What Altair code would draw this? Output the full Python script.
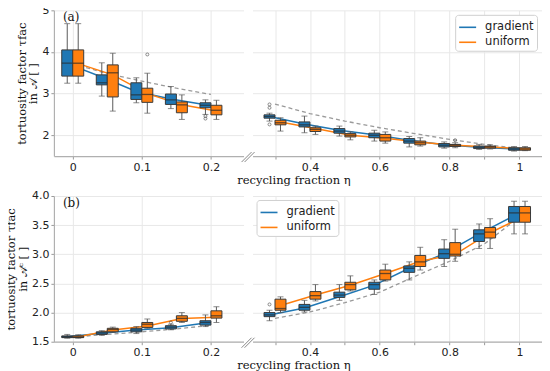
import altair as alt
import pandas as pd

eta_left = [0.0, 0.05, 0.1, 0.15, 0.2]
eta_right = [0.3, 0.4, 0.5, 0.6, 0.7, 0.8, 0.9, 1.0]
eta_all = eta_left + eta_right
series_names = ["gradient", "uniform"]

# ---- panel (a): tortuosity in A ----
a_grad_lo = [3.25, 2.94, 2.78, 2.64, 2.50, 2.34, 2.06, 1.98, 1.86, 1.72, 1.69, 1.66, 1.62]
a_grad_q1 = [3.42, 3.21, 2.86, 2.74, 2.66, 2.41, 2.20, 2.05, 1.94, 1.81, 1.72, 1.68, 1.64]
a_grad_md = [3.73, 3.26, 2.97, 2.85, 2.72, 2.45, 2.25, 2.10, 2.00, 1.86, 1.76, 1.71, 1.67]
a_grad_q3 = [4.05, 3.45, 3.26, 2.99, 2.78, 2.49, 2.32, 2.16, 2.05, 1.92, 1.80, 1.74, 1.70]
a_grad_hi = [4.68, 3.74, 3.38, 3.17, 2.85, 2.53, 2.46, 2.22, 2.12, 1.97, 1.84, 1.78, 1.73]
a_grad_line = [3.72, 3.40, 3.05, 2.87, 2.73, 2.45, 2.27, 2.12, 2.01, 1.88, 1.77, 1.71, 1.67]
a_grad_out_eta = [0.2, 0.2, 0.3, 0.3, 0.3]
a_grad_out_val = [2.40, 2.46, 2.66, 2.74, 2.26]

a_unif_lo = [3.25, 2.58, 2.53, 2.38, 2.38, 2.10, 2.02, 1.89, 1.81, 1.74, 1.70, 1.67, 1.63]
a_unif_q1 = [3.42, 2.92, 2.79, 2.54, 2.49, 2.25, 2.09, 1.96, 1.86, 1.77, 1.73, 1.69, 1.64]
a_unif_md = [3.73, 3.50, 2.98, 2.73, 2.60, 2.30, 2.14, 2.00, 1.94, 1.82, 1.76, 1.72, 1.67]
a_unif_q3 = [4.05, 3.69, 3.13, 2.80, 2.72, 2.36, 2.18, 2.04, 2.02, 1.86, 1.78, 1.74, 1.70]
a_unif_hi = [4.68, 3.97, 3.49, 2.97, 2.84, 2.42, 2.22, 2.08, 2.08, 1.94, 1.82, 1.77, 1.73]
a_unif_line = [3.72, 3.45, 3.00, 2.73, 2.58, 2.32, 2.16, 2.00, 1.93, 1.83, 1.76, 1.72, 1.67]
a_unif_out_eta = [0.1, 0.8]
a_unif_out_val = [3.94, 1.88]

a_ref_line = [3.72, 3.48, 3.30, 3.13, 2.98, 2.75, 2.52, 2.34, 2.18, 2.04, 1.90, 1.78, 1.68]

# ---- panel (b): tortuosity in A^c ----
b_grad_lo = [1.56, 1.61, 1.64, 1.705, 1.76, 1.86, 2.01, 2.21, 2.31, 2.56, 2.79, 3.10, 3.35]
b_grad_q1 = [1.57, 1.625, 1.67, 1.72, 1.785, 1.93, 2.04, 2.26, 2.40, 2.69, 2.93, 3.22, 3.55]
b_grad_md = [1.585, 1.65, 1.70, 1.75, 1.83, 1.96, 2.09, 2.30, 2.48, 2.76, 3.01, 3.35, 3.71]
b_grad_q3 = [1.60, 1.67, 1.73, 1.775, 1.86, 2.00, 2.14, 2.35, 2.52, 2.80, 3.09, 3.42, 3.82]
b_grad_hi = [1.625, 1.69, 1.76, 1.80, 1.96, 2.04, 2.21, 2.48, 2.56, 2.87, 3.25, 3.52, 3.91]
b_grad_line = [1.585, 1.645, 1.70, 1.74, 1.82, 1.96, 2.08, 2.27, 2.47, 2.76, 3.01, 3.35, 3.66]
b_grad_out_eta = [0.15, 0.3]
b_grad_out_val = [1.83, 2.14]

b_unif_lo = [1.56, 1.66, 1.73, 1.83, 1.83, 2.00, 2.20, 2.37, 2.54, 2.73, 2.88, 3.10, 3.35]
b_unif_q1 = [1.57, 1.67, 1.745, 1.85, 1.905, 2.04, 2.23, 2.39, 2.56, 2.79, 2.97, 3.28, 3.55]
b_unif_md = [1.58, 1.71, 1.80, 1.90, 1.945, 2.07, 2.29, 2.48, 2.67, 2.87, 3.00, 3.38, 3.71]
b_unif_q3 = [1.60, 1.73, 1.83, 1.945, 2.03, 2.23, 2.36, 2.52, 2.73, 2.98, 3.20, 3.46, 3.82]
b_unif_hi = [1.62, 1.75, 1.89, 2.00, 2.10, 2.27, 2.48, 2.63, 2.83, 3.12, 3.43, 3.61, 3.91]
b_unif_line = [1.585, 1.70, 1.77, 1.90, 1.92, 2.12, 2.30, 2.47, 2.67, 2.88, 3.00, 3.37, 3.66]
b_unif_out_eta = []
b_unif_out_val = []

b_ref_line = [1.58, 1.625, 1.67, 1.72, 1.78, 1.90, 2.01, 2.17, 2.35, 2.62, 2.88, 3.18, 3.64]

BLUE = "#1f77b4"
ORANGE = "#ff7f0e"
OFF = 5.5
SERIF = "DejaVu Serif"
SANS = "DejaVu Sans"
LW, RW, H = 190, 290, 146


def sdf(lo, q1, md, q3, hi, line, name):
    return pd.DataFrame({"eta": eta_all, "lo": lo, "q1": q1, "md": md,
                         "q3": q3, "hi": hi, "line": line, "series": name})


def odf(e, v, name):
    return pd.DataFrame({"eta": e, "v": v, "series": name})


color_scale = alt.Scale(domain=series_names, range=[BLUE, ORANGE])


def panel(grad, unif, gout, uout, ref, side, ydom, yticks, yfmt, ytitle, tag, legend_xy):
    if side == "left":
        sel = lambda d: d[d["eta"] <= 0.2]
        xscale = alt.Scale(domain=[-0.02, 0.24], nice=False, zero=False)
        xaxis = alt.Axis(values=[0, 0.1, 0.2], grid=True,
                         labelExpr="datum.value == 0 ? '0' : format(datum.value, '.1f')",
                         title="recycling fraction η", titleX=240, titleY=24,
                         titleAlign="center", titleBaseline="middle")
        yaxis = alt.Axis(values=yticks, format=yfmt, grid=True, title=ytitle,
                         titleLineHeight=11.5, titlePadding=3)
        width = LW
    else:
        sel = lambda d: d[d["eta"] >= 0.3]
        xscale = alt.Scale(domain=[0.25, 1.05], nice=False, zero=False)
        xaxis = alt.Axis(values=eta_right, grid=True, title=None,
                         labelExpr="round(datum.value*10) % 2 == 0 ? (datum.value > 0.95 ? '1' : format(datum.value, '.1f')) : ''")
        yaxis = alt.Axis(values=yticks, grid=True, labels=False, ticks=False,
                         domain=False, title=None)
        width = RW
    X = alt.X("eta:Q", scale=xscale, axis=xaxis)
    ysc = alt.Scale(domain=ydom, nice=False, zero=False)

    layers = []
    r = sel(ref)
    layers.append(alt.Chart(r).mark_line(strokeDash=[4, 3], color="#9a9a9a", strokeWidth=1.3)
                  .encode(x=X, y=alt.Y("line:Q", scale=ysc, axis=yaxis)))
    for d, off in ((grad, -OFF), (unif, OFF)):
        dd = sel(d)
        if side == "right":
            leg = alt.Legend(orient="none", legendX=legend_xy[0], legendY=legend_xy[1], title=None,
                             symbolType="stroke", symbolSize=289, symbolStrokeWidth=1.6,
                             labelFont=SANS, labelFontSize=11.5, labelColor="#222",
                             strokeColor="#d0d0d0", fillColor="white", cornerRadius=3,
                             padding=3, rowPadding=0, labelOffset=8)
        else:
            leg = None
        layers.append(alt.Chart(dd).mark_line(xOffset=off, strokeWidth=1.5)
                      .encode(x=X, y=alt.Y("line:Q", scale=ysc, axis=yaxis),
                              color=alt.Color("series:N", scale=color_scale, legend=leg)))
    for d, o, off, col in ((grad, gout, -OFF, BLUE), (unif, uout, OFF, ORANGE)):
        dd = sel(d)
        base = alt.Chart(dd)
        Y = lambda f: alt.Y(f + ":Q", scale=ysc, axis=yaxis)
        layers.append(base.mark_rule(xOffset=off, color="#5a5a5a", strokeWidth=1)
                      .encode(x=X, y=Y("lo"), y2="hi:Q"))
        layers.append(base.mark_tick(orient="horizontal", size=6, thickness=1, color="#5a5a5a", xOffset=off)
                      .encode(x=X, y=Y("lo")))
        layers.append(base.mark_tick(orient="horizontal", size=6, thickness=1, color="#5a5a5a", xOffset=off)
                      .encode(x=X, y=Y("hi")))
        layers.append(base.mark_bar(size=11, xOffset=off, fill=col, stroke="#3a3a3a", strokeWidth=1)
                      .encode(x=X, y=Y("q1"), y2="q3:Q"))
        layers.append(base.mark_tick(orient="horizontal", size=11, thickness=1.3, color="#2a2a2a", xOffset=off)
                      .encode(x=X, y=Y("md")))
        oo = sel(o)
        if len(oo):
            layers.append(alt.Chart(oo).mark_point(shape="circle", size=9, filled=False, color="#333",
                                                   strokeWidth=0.8, xOffset=off)
                          .encode(x=X, y=alt.Y("v:Q", scale=ysc, axis=yaxis)))
    if side == "left":
        layers.append(alt.Chart(pd.DataFrame({"t": [tag]})).mark_text(
            align="left", baseline="top", font=SERIF, fontSize=12, color="#111")
            .encode(x=alt.value(9), y=alt.value(2), text="t:N"))
        for dx in (0, 3):
            layers.append(alt.Chart(pd.DataFrame({"k": [0]})).mark_rule(color="#888", strokeWidth=1)
                          .encode(x=alt.value(LW - 2 + dx), x2=alt.value(LW + 8 + dx),
                                  y=alt.value(H + 6), y2=alt.value(H - 4)))
    return alt.layer(*layers).properties(width=width, height=H)


ga = sdf(a_grad_lo, a_grad_q1, a_grad_md, a_grad_q3, a_grad_hi, a_grad_line, "gradient")
ua = sdf(a_unif_lo, a_unif_q1, a_unif_md, a_unif_q3, a_unif_hi, a_unif_line, "uniform")
gb = sdf(b_grad_lo, b_grad_q1, b_grad_md, b_grad_q3, b_grad_hi, b_grad_line, "gradient")
ub = sdf(b_unif_lo, b_unif_q1, b_unif_md, b_unif_q3, b_unif_hi, b_unif_line, "uniform")
refa = pd.DataFrame({"eta": eta_all, "line": a_ref_line})
refb = pd.DataFrame({"eta": eta_all, "line": b_ref_line})
goa = odf(a_grad_out_eta, a_grad_out_val, "gradient")
uoa = odf(a_unif_out_eta, a_unif_out_val, "uniform")
gob = odf(b_grad_out_eta, b_grad_out_val, "gradient")
uob = odf(b_unif_out_eta, b_unif_out_val, "uniform")

title_a = ["tortuosity factor τfac", "in 𝒜 [  ]"]
title_b = ["tortuosity factor τfac", "in 𝒜ᶜ [  ]"]

row_a = alt.hconcat(
    panel(ga, ua, goa, uoa, refa, "left", [1.5, 5.0], [2, 3, 4, 5], "d", title_a, "(a)", None),
    panel(ga, ua, goa, uoa, refa, "right", [1.5, 5.0], [2, 3, 4, 5], "d", None, "", (203, 4.5)),
    spacing=9, bounds="flush",
).resolve_scale(x="independent", y="independent", color="independent")

row_b = alt.hconcat(
    panel(gb, ub, gob, uob, refb, "left", [1.5, 4.0], [1.5, 2.0, 2.5, 3.0, 3.5, 4.0], ".1f", title_b, "(b)", None),
    panel(gb, ub, gob, uob, refb, "right", [1.5, 4.0], [1.5, 2.0, 2.5, 3.0, 3.5, 4.0], ".1f", None, "", (4, 4)),
    spacing=9, bounds="flush",
).resolve_scale(x="independent", y="independent", color="independent")

chart = alt.vconcat(row_a, row_b, spacing=4).resolve_scale(
    x="independent", y="independent", color="independent"
).properties(
    padding={"left": -2, "top": -4, "right": 0, "bottom": 0}
).configure_view(stroke=None).configure_axis(
    labelFont=SANS, labelFontSize=11, labelColor="#222",
    tickColor="#9a9a9a", tickSize=3, labelPadding=2,
    domainColor="#b0b0b0", domainWidth=1.2,
    gridColor="#e8e8e8", gridWidth=1,
    titleFont=SERIF, titleFontSize=11.5, titleFontWeight="normal", titleColor="#111",
)

chart.save("out.html", embed_options={"renderer": "svg", "actions": False})
